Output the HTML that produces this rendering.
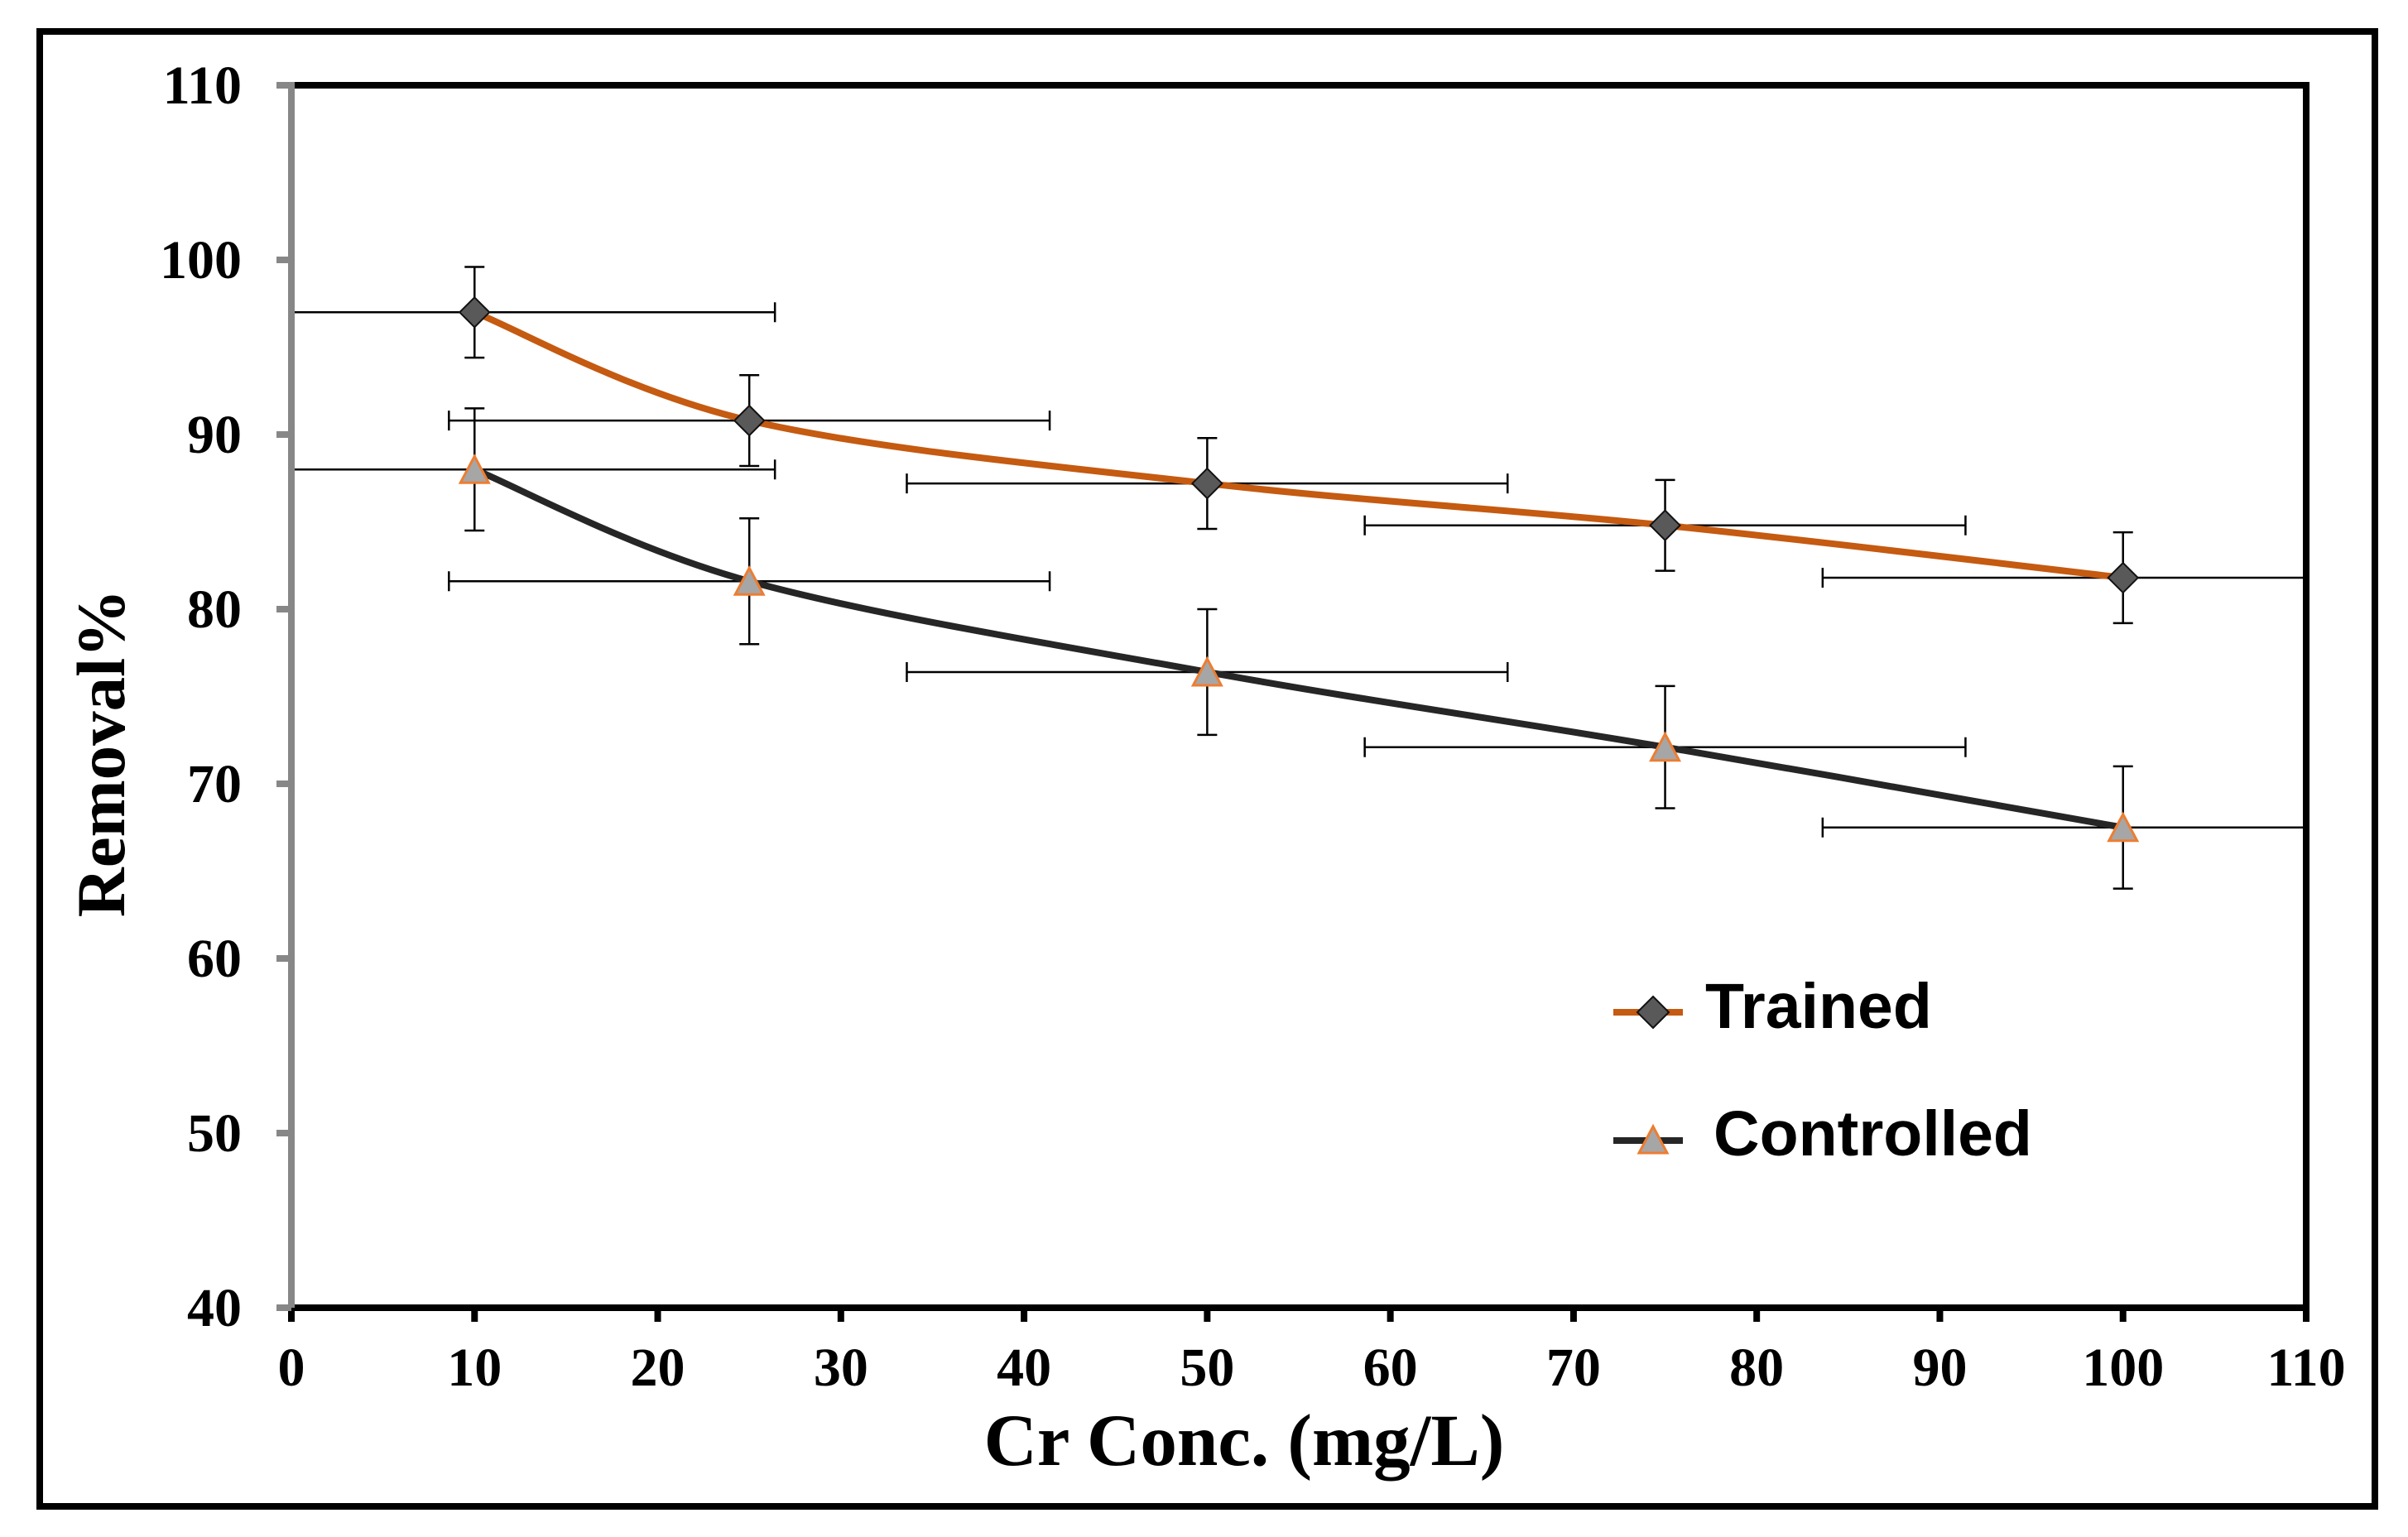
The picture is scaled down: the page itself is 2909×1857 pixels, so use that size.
<!DOCTYPE html>
<html><head><meta charset="utf-8"><style>
html,body{margin:0;padding:0;background:#fff;}
svg{display:block;}
</style></head><body>
<svg id="chart" width="2909" height="1857" viewBox="0 0 2909 1857" xmlns="http://www.w3.org/2000/svg">
<rect x="48" y="38" width="2821" height="1782" fill="none" stroke="#000" stroke-width="8"/>
<g id="grid"></g>
<g id="series"></g>
<g id="axes"></g>
<text x="1503" y="1770" font-family="Liberation Serif, serif" font-weight="bold" font-size="89" text-anchor="middle">Cr Conc. (mg/L)</text>
<text transform="translate(150,910) rotate(-90)" font-family="Liberation Serif, serif" font-weight="bold" font-size="83" text-anchor="middle">Removal%</text>
<g>
 <g>
  <line x1="1949" y1="1223" x2="2033" y2="1223" stroke="#C55A11" stroke-width="8"/>
  <polygon points="1997,1204 2016,1223 1997,1242 1978,1223" fill="#595959" stroke="#111" stroke-width="2"/>
  <text x="2060" y="1242" font-family="Liberation Sans, sans-serif" font-weight="bold" font-size="77">Trained</text>
 </g>
 <g>
  <line x1="1949" y1="1378" x2="2033" y2="1378" stroke="#262626" stroke-width="8"/>
  <polygon points="1997,1361 2014,1393 1980,1393" fill="#A6A6A6" stroke="#ED7D31" stroke-width="3"/>
  <text x="2070" y="1396" font-family="Liberation Sans, sans-serif" font-weight="bold" font-size="77">Controlled</text>
 </g>
</g>
</svg>
<script>
const xCats = [10, 25, 50, 75, 100];
const trainedVals = [97, 90.8, 87.2, 84.8, 81.8];
const trainedYErr = [2.6, 2.6, 2.6, 2.6, 2.6];
const trainedXErr = [16.4, 16.4, 16.4, 16.4, 16.4];
const controlledVals = [88, 81.6, 76.4, 72.1, 67.5];
const controlledYErr = [3.5, 3.6, 3.6, 3.5, 3.5];
const controlledXErr = [16.4, 16.4, 16.4, 16.4, 16.4];
const xTicks = [0,10,20,30,40,50,60,70,80,90,100,110];
const yTicks = [40,50,60,70,80,90,100,110];

const NS = "http://www.w3.org/2000/svg";
const L = 352, R = 2786, T = 103, B = 1580;
const xMin = 0, xMax = 110, yMin = 40, yMax = 110;
function sx(v){ return L + (v - xMin) / (xMax - xMin) * (R - L); }
function sy(v){ return B - (v - yMin) / (yMax - yMin) * (B - T); }
function mk(tag, attrs, parent){
  const e = document.createElementNS(NS, tag);
  for (const k in attrs) e.setAttribute(k, attrs[k]);
  parent.appendChild(e); return e;
}
const axes = document.getElementById('axes');
const series = document.getElementById('series');

let el = mk('polyline', {points: `${L},${T} ${R},${T} ${R},${B}`, fill:'none', stroke:'#000', 'stroke-width':8}, axes);


el = mk('line', {x1:L-4, y1:B, x2:R+4, y2:B, stroke:'#000', 'stroke-width':8}, axes);


el = mk('line', {x1:L, y1:T-4, x2:L, y2:B, stroke:'#878787', 'stroke-width':8}, axes);



xTicks.forEach(t => {
  const x = sx(t);
  const tk = mk('line', {x1:x, y1:B, x2:x, y2:B+17, stroke:'#000', 'stroke-width':8}, axes);
  
  
  const tx = mk('text', {x:x, y:B+94, 'text-anchor':'middle', 'font-family':'Liberation Serif, serif', 'font-weight':'bold', 'font-size':66}, axes);
  tx.textContent = t;
  
  
});
yTicks.forEach(t => {
  const y = sy(t);
  const tk = mk('line', {x1:L-18, y1:y, x2:L, y2:y, stroke:'#878787', 'stroke-width':8}, axes);
  
  
  const tx = mk('text', {x:292, y:y+22, 'text-anchor':'end', 'font-family':'Liberation Serif, serif', 'font-weight':'bold', 'font-size':66}, axes);
  tx.textContent = t;
  
  
});

function smoothPath(pts){
  let d = `M${pts[0][0]},${pts[0][1]}`;
  for (let i = 0; i < pts.length - 1; i++){
    const p0 = pts[Math.max(0,i-1)], p1 = pts[i], p2 = pts[i+1], p3 = pts[Math.min(pts.length-1,i+2)];
    const t = 1/3;
    const c1 = [p1[0] + (p2[0]-p0[0])*t/2, p1[1] + (p2[1]-p0[1])*t/2];
    const c2 = [p2[0] - (p3[0]-p1[0])*t/2, p2[1] - (p3[1]-p1[1])*t/2];
    d += ` C${c1[0]},${c1[1]} ${c2[0]},${c2[1]} ${p2[0]},${p2[1]}`;
  }
  return d;
}

function drawSeries(name, vals, yErr, xErr, color, marker){
  const g = mk('g', {}, series);
  
  
  xCats.forEach((xv, i) => {
    const x = sx(xv), y = sy(vals[i]);
    const y1 = sy(vals[i] + yErr[i]), y2 = sy(vals[i] - yErr[i]);
    const eb = mk('path', {d:`M${x},${y1} V${y2} M${x-12},${y1} H${x+12} M${x-12},${y2} H${x+12}`, stroke:'#000', 'stroke-width':2.5, fill:'none'}, g);
    
    
    const lo = xv - xErr[i], hi = xv + xErr[i];
    const xa = sx(Math.max(lo, xMin)), xb = sx(Math.min(hi, xMax));
    let d = `M${xa},${y} H${xb}`;
    if (lo >= xMin) d += ` M${xa},${y-12} V${y+12}`;
    if (hi <= xMax) d += ` M${xb},${y-12} V${y+12}`;
    const ex = mk('path', {d:d, stroke:'#000', 'stroke-width':2.5, fill:'none'}, g);
    
    
  });
  const pts = xCats.map((xv, i) => [sx(xv), sy(vals[i])]);
  const ln = mk('path', {d:smoothPath(pts), stroke:color, 'stroke-width':8, fill:'none', 'stroke-linecap':'round'}, g);
  
  
  pts.forEach(p => {
    let m;
    if (marker === 'diamond'){
      m = mk('polygon', {points:`${p[0]},${p[1]-18} ${p[0]+18},${p[1]} ${p[0]},${p[1]+18} ${p[0]-18},${p[1]}`, fill:'#595959', stroke:'#111', 'stroke-width':2}, g);
    } else {
      m = mk('polygon', {points:`${p[0]},${p[1]-16} ${p[0]+17},${p[1]+16} ${p[0]-17},${p[1]+16}`, fill:'#A6A6A6', stroke:'#ED7D31', 'stroke-width':3}, g);
    }
    
    
  });
}
drawSeries('controlled', controlledVals, controlledYErr, controlledXErr, '#262626', 'triangle');
drawSeries('trained', trainedVals, trainedYErr, trainedXErr, '#C55A11', 'diamond');
</script>
</body></html>
